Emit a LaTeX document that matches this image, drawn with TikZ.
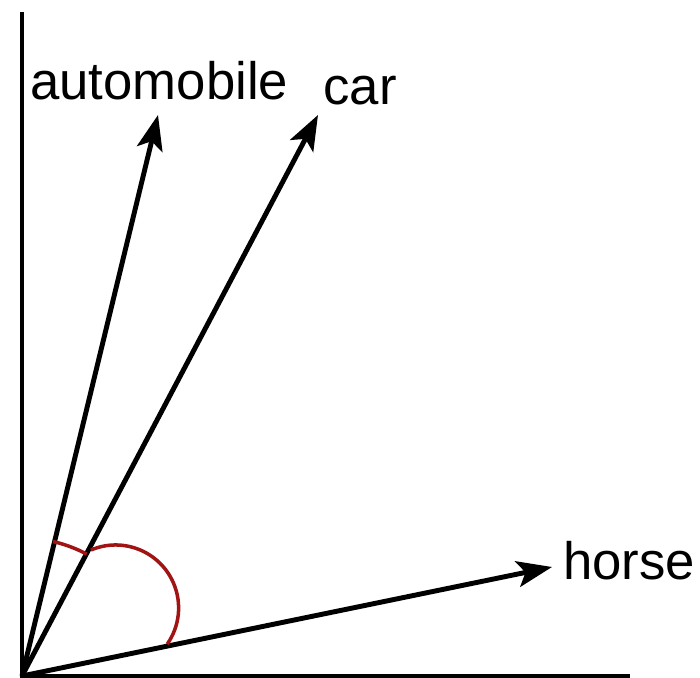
\documentclass[tikz,border=0pt]{standalone}
\usepackage{fontspec}
\setmainfont{Liberation Sans}
\usetikzlibrary{arrows.meta}
\definecolor{anglered}{RGB}{160,20,20}
\begin{document}
\begin{tikzpicture}[x=0.02cm, y=0.02cm,
    vec/.style={line width=2.8pt, -{Stealth[length=0.7cm, width=0.52cm, inset=0.16cm]}},
    axis/.style={line width=2pt},
    angle/.style={line width=2pt, anglered},
    word/.style={font=\fontsize{30}{36}\selectfont, anchor=base west, inner sep=0pt}]
  \useasboundingbox (0,0) rectangle (700,678);

  % 1. Origin and the two axes
  \coordinate (O) at (22,2);
  \coordinate (ytop) at (22,666);
  \coordinate (xend) at (630,2);
  \draw[axis] (ytop) -- (O) -- (xend);

  % 2. Word vectors
  \coordinate (auto) at (158,563);
  \coordinate (car) at (318,563);
  \coordinate (horse) at (552,111);
  \foreach \tip in {auto, car, horse} {
    \draw[vec] (O) -- (\tip);
  }

  % 3. Labels
  \node[word] (autolabel) at (30,578) {automobile};
  \node[word] (carlabel) at (323,573) {car};
  \node[word] (horselabel) at (563,98) {horse};

  % 4. Angles between the vectors
  \draw[angle] (O) ++(77:138) arc (77:62:138);
  \draw[angle] (91,128) arc (113:-35:63);

\end{tikzpicture}
\end{document}
